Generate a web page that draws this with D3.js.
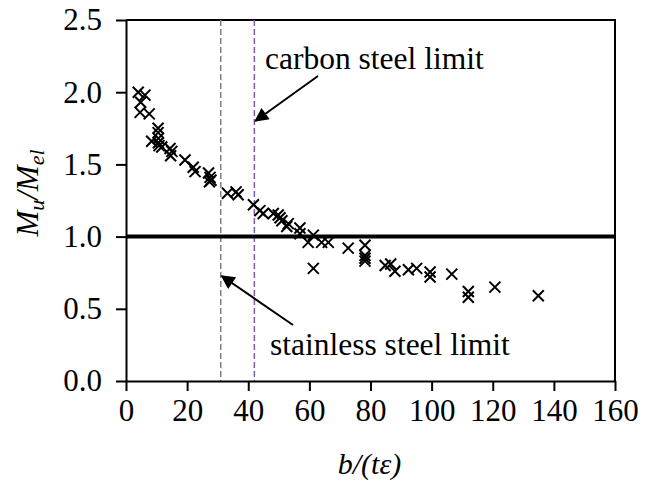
<!DOCTYPE html>
<html>
<head>
<meta charset="utf-8">
<script src="https://cdn.jsdelivr.net/npm/d3@7"></script>
<style>
  body { margin: 0; background: #fff; }
  svg text { fill: #000; }
  .axis path, .axis line { stroke: #000; stroke-width: 2px; }
</style>
</head>
<body>
<div id="chart"></div>
<script>
var svgWidth = 645;
var svgHeight = 482;
var margin = ({top: 20, right: 30, bottom: 101, left: 126});
var serif = "'Liberation Serif', 'Times New Roman', Times, 'DejaVu Serif', serif";

// b/(t eps) values
var slenderness = [4, 6.2, 4.8, 4.6, 7.6, 10.5, 10.5, 10.6, 10.6, 8.4, 10.8, 11.7,
    14.4, 15, 14.6, 19.3, 22, 22.6, 27, 27.5, 27.8, 27.3, 33.2, 36, 36.7,
    41.7, 43.8, 44.9, 48.2, 49.8, 50.4, 51, 53.1, 52.6, 56.9, 56.9, 59.6, 61.3,
    64, 66.2, 61.3, 72.7, 78.2, 78.2, 78.2, 78.2, 84.8, 86.6, 88, 92.4, 95.1,
    99.5, 99.5, 106.6, 112, 112, 120.7, 134.9];
// Mu/Mel values
var momentRatio = [2.00, 1.98, 1.93, 1.86, 1.85, 1.75, 1.72, 1.68, 1.65, 1.66, 1.63, 1.62,
    1.61, 1.59, 1.56, 1.53, 1.48, 1.45, 1.44, 1.41, 1.39, 1.38, 1.30, 1.31, 1.29,
    1.22, 1.18, 1.16, 1.16, 1.15, 1.13, 1.11, 1.09, 1.07, 1.06, 1.02, 0.96, 1.01,
    0.96, 0.96, 0.78, 0.92, 0.94, 0.87, 0.85, 0.83, 0.80, 0.81, 0.76, 0.77, 0.78,
    0.755, 0.72, 0.74, 0.62, 0.58, 0.65, 0.59];
var xTicks = [0, 20, 40, 60, 80, 100, 120, 140, 160];
var yTicks = [0, 0.5, 1.0, 1.5, 2.0, 2.5];
var stainlessLimit = 31;
var carbonLimit = 42;

var data = slenderness.map((d, i) => ({x: d, y: momentRatio[i]}));

var x = d3.scaleLinear().domain([0, 160]).range([margin.left, svgWidth - margin.right]);
var y = d3.scaleLinear().domain([0, 2.5]).range([svgHeight - margin.bottom, margin.top]);

var svg = d3.select("#chart").append("svg")
    .attr("width", svgWidth)
    .attr("height", svgHeight);

var defs = svg.append("defs");
defs.append("marker")
    .attr("id", "arrow")
    .attr("viewBox", "0 0 10 10")
    .attr("refX", 9).attr("refY", 5)
    .attr("markerWidth", 20).attr("markerHeight", 14)
    .attr("markerUnits", "userSpaceOnUse")
    .attr("orient", "auto")
  .append("path")
    .attr("d", "M0,0L10,5L0,10z")
    .attr("fill", "#000");

// frame top + right
svg.append("path")
    .attr("d", "M" + x(0) + "," + y(2.5) + "H" + x(160) + "V" + y(0))
    .attr("fill", "none").attr("stroke", "#000").attr("stroke-width", 2);

// limit lines
svg.append("line")
    .attr("x1", x(stainlessLimit)).attr("x2", x(stainlessLimit))
    .attr("y1", y(2.5)).attr("y2", y(0))
    .attr("stroke", "#808080").attr("stroke-width", 1.5)
    .attr("stroke-dasharray", "6,3");
svg.append("line")
    .attr("x1", x(carbonLimit)).attr("x2", x(carbonLimit))
    .attr("y1", y(2.5)).attr("y2", y(0))
    .attr("stroke", "#7b5cb0").attr("stroke-width", 1.5)
    .attr("stroke-dasharray", "6,3");

// Mu/Mel = 1 line
svg.append("line")
    .attr("x1", x(0)).attr("x2", x(160))
    .attr("y1", y(1)).attr("y2", y(1))
    .attr("stroke", "#000").attr("stroke-width", 4);

// axes
var xg = svg.append("g")
    .attr("class", "axis")
    .attr("transform", "translate(0," + y(0) + ")")
    .call(d3.axisBottom(x).tickValues(xTicks).tickSize(10).tickSizeOuter(0).tickPadding(8));
var yg = svg.append("g")
    .attr("class", "axis")
    .attr("transform", "translate(" + x(0) + ",0)")
    .call(d3.axisLeft(y).tickValues(yTicks).tickFormat(d3.format(".1f")).tickSize(10).tickSizeOuter(0).tickPadding(14));
[xg, yg].forEach(g => g.attr("font-family", serif).attr("font-size", 31));

// points
svg.append("g").selectAll(".pt")
    .data(data)
    .enter().append("path")
    .attr("class", "pt")
    .attr("transform", d => "translate(" + x(d.x) + "," + y(d.y) + ")")
    .attr("d", "M-5.5,-5.5L5.5,5.5M-5.5,5.5L5.5,-5.5")
    .attr("stroke", "#000").attr("stroke-width", 2).attr("fill", "none");

// annotations
svg.append("text")
    .attr("x", 265).attr("y", 69)
    .attr("font-family", serif).attr("font-size", 31.5)
    .text("carbon steel limit");
svg.append("line")
    .attr("x1", 318).attr("y1", 76)
    .attr("x2", x(carbonLimit) + 1).attr("y2", 121)
    .attr("stroke", "#000").attr("stroke-width", 2)
    .attr("marker-end", "url(#arrow)");

svg.append("text")
    .attr("x", 270).attr("y", 355)
    .attr("font-family", serif).attr("font-size", 31.5)
    .text("stainless steel limit");
svg.append("line")
    .attr("x1", 293).attr("y1", 325)
    .attr("x2", x(stainlessLimit) + 1).attr("y2", 276)
    .attr("stroke", "#000").attr("stroke-width", 2)
    .attr("marker-end", "url(#arrow)");

// axis titles
svg.append("text")
    .attr("x", (x(0) + x(160)) / 2 - 1).attr("y", 474)
    .attr("text-anchor", "middle")
    .attr("font-family", serif).attr("font-size", 30).attr("font-style", "italic")
    .text("b/(tε)");

var yl = svg.append("text")
    .attr("transform", "translate(38," + 193 + ") rotate(-90)")
    .attr("text-anchor", "middle")
    .attr("font-family", serif).attr("font-size", 31).attr("font-style", "italic");
yl.append("tspan").text("M");
yl.append("tspan").text("u").attr("font-size", 22).attr("dy", 6);
yl.append("tspan").text("/M").attr("dy", -6);
yl.append("tspan").text("el").attr("font-size", 22).attr("dy", 6);
</script>
</body>
</html>
